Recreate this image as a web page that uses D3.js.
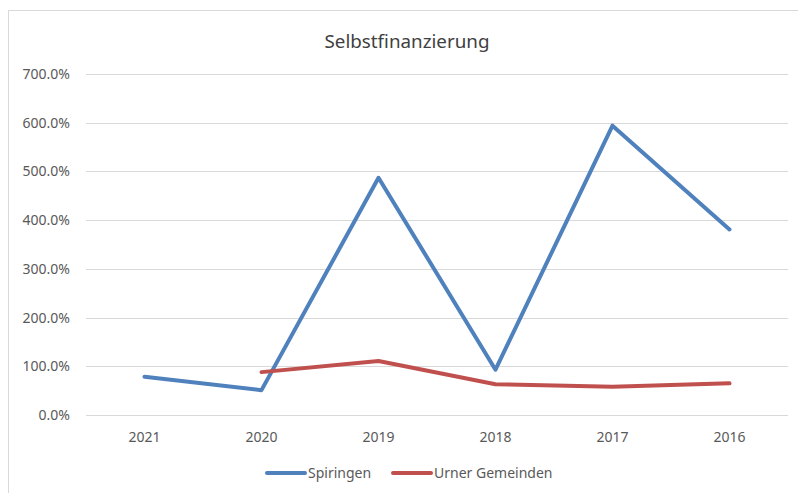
<!DOCTYPE html>
<html>
<head>
<meta charset="utf-8">
<script src="https://cdn.jsdelivr.net/npm/d3@7"></script>
<style>
  body { margin: 0; background: #fff; }
  svg text { font-family: "Noto Sans", "Open Sans", sans-serif; }
</style>
</head>
<body>
<div id="chart"></div>
<script>
var years = ["2021", "2020", "2019", "2018", "2017", "2016"];
var spiringen = [78.5, 51, 487, 93, 594, 381];
var urner = [null, 88, 111, 63, 58, 65];
var yTicks = [0, 100, 200, 300, 400, 500, 600, 700];
var seriesNames = ["Spiringen", "Urner Gemeinden"];
var seriesColors = ["#4f81bd", "#c0504d"];

var svg = d3.select("#chart").append("svg").attr("width", 798).attr("height", 493);

// chart area border
svg.append("rect").attr("x", 8.5).attr("y", 10.5).attr("width", 800).attr("height", 500)
    .attr("fill", "#fff").attr("stroke", "#d9d9d9").attr("stroke-width", 1);

var x = d3.scaleBand().domain(years).range([86, 788]);
var y = d3.scaleLinear().domain([0, 700]).range([415, 74]);

// gridlines
svg.selectAll(".grid").data(yTicks).enter().append("line").attr("class", "grid")
    .attr("x1", 86).attr("x2", 788).attr("y1", d => Math.round(y(d)) + 0.5).attr("y2", d => Math.round(y(d)) + 0.5)
    .attr("stroke", "#d9d9d9").attr("stroke-width", 1);

// y labels
svg.selectAll(".ylab").data(yTicks).enter().append("text").attr("class", "ylab")
    .attr("x", 70).attr("y", d => y(d) + 5).attr("text-anchor", "end")
    .attr("font-size", "14px").attr("fill", "#595959").text(d => d3.format(".1f")(d) + "%");

// x labels
svg.selectAll(".xlab").data(years).enter().append("text").attr("class", "xlab")
    .attr("x", d => x(d) + x.bandwidth() / 2).attr("y", 442).attr("text-anchor", "middle")
    .attr("font-size", "14px").attr("fill", "#595959").text(d => d);

var line = d3.line().defined(d => d.v != null)
    .x(d => x(d.year) + x.bandwidth() / 2).y(d => y(d.v));

[spiringen, urner].forEach((vals, i) => {
    var pts = years.map((yr, j) => ({ year: yr, v: vals[j] }));
    svg.append("path").datum(pts).attr("fill", "none").attr("stroke", seriesColors[i])
        .attr("stroke-width", 4).attr("stroke-linejoin", "round").attr("stroke-linecap", "round").attr("d", line);
});

// title
svg.append("text").attr("x", 407).attr("y", 48).attr("text-anchor", "middle")
    .attr("font-size", "18.8px").attr("fill", "#404040").text("Selbstfinanzierung");

// legend
var legendX = [267, 393];
seriesNames.forEach((name, i) => {
    svg.append("line").attr("x1", legendX[i]).attr("x2", legendX[i] + 38).attr("y1", 473).attr("y2", 473)
        .attr("stroke", seriesColors[i]).attr("stroke-width", 4).attr("stroke-linecap", "round");
    svg.append("text").attr("x", legendX[i] + 41).attr("y", 478).attr("font-size", "14px")
        .attr("fill", "#595959").text(name);
});
</script>
</body>
</html>
